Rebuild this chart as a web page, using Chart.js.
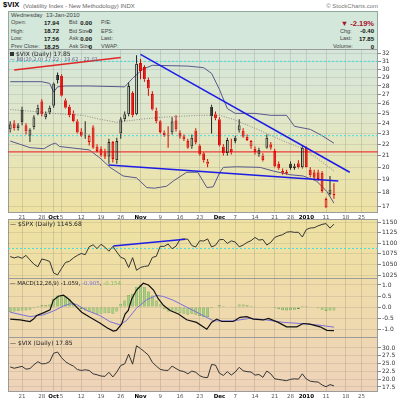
<!DOCTYPE html>
<html>
<head>
<meta charset="utf-8">
<title>$VIX daily</title>
<script src="https://cdn.jsdelivr.net/npm/chart.js@4.4.1/dist/chart.umd.min.js"></script>
<style>
  body { margin: 0; width: 400px; height: 400px; background: #fff; position: relative; overflow: hidden;
         font-family: "DejaVu Sans", Verdana, sans-serif; }
  .t { position: absolute; white-space: nowrap; line-height: 1; font-size: 5.5px; color: #444;
       font-family: "Liberation Sans", Arial, sans-serif; }
  .v { position: absolute; white-space: nowrap; line-height: 1; font-size: 6px; font-weight: bold; color: #111;
       font-family: "Liberation Sans", Arial, sans-serif; }
  .lg { font-family: "DejaVu Sans", Verdana, sans-serif; }
  .box { position: absolute; left: 8px; width: 370px; box-sizing: border-box; border: 1px solid #9b9b9b; }
  canvas { position: absolute; left: 0; }
</style>
</head>
<body>

<!-- header -->
<div class="t" style="left:3px;top:1px;font-size:7.5px;font-weight:bold;color:#000">$VIX</div>
<div class="t" style="left:23px;top:2.5px;font-size:6px;color:#666">(Volatility Index - New Methodology) INDX</div>
<div class="t" style="right:22px;top:2.5px;font-size:6px;color:#777">© StockCharts.com</div>

<div class="box" style="top:11px;height:39px;background:#d3e7da;border-color:#92aa9c"></div>
<div class="t" style="left:11px;top:12px;font-size:6px">Wednesday&nbsp; 13-Jan-2010</div>

<div class="t" style="left:11px;top:20.2px">Open:</div>
<div class="v" style="right:341px;top:20px">17.94</div>
<div class="t" style="left:69px;top:20.2px">Bid:</div>
<div class="v" style="right:308px;top:20px">0.00</div>
<div class="t" style="left:101px;top:20.2px">P/E:</div>

<div class="t" style="left:11px;top:28.5px">High:</div>
<div class="v" style="right:341px;top:28.3px">18.72</div>
<div class="t" style="left:69px;top:28.5px">Bid Size:</div>
<div class="v" style="right:308px;top:28.3px">0</div>
<div class="t" style="left:101px;top:28.5px">EPS:</div>

<div class="t" style="left:11px;top:36.2px">Low:</div>
<div class="v" style="right:341px;top:36px">17.56</div>
<div class="t" style="left:69px;top:36.2px">Ask:</div>
<div class="v" style="right:308px;top:36px">0.00</div>
<div class="t" style="left:101px;top:36.2px">Last:</div>

<div class="t" style="left:11px;top:43.9px">Prev Close:</div>
<div class="v" style="right:341px;top:43.7px">18.25</div>
<div class="t" style="left:69px;top:43.9px">Ask Size:</div>
<div class="v" style="right:308px;top:43.7px">0</div>
<div class="t" style="left:101px;top:43.9px">VWAP:</div>

<div class="v" style="right:26px;top:19.5px;font-size:7.5px;color:#a8102c">▼ -2.19%</div>
<div class="t" style="left:340px;top:28.5px">Chg:</div>
<div class="v" style="right:26px;top:28.3px">-0.40</div>
<div class="t" style="left:340px;top:36.2px">Last:</div>
<div class="v" style="right:26px;top:36px">17.85</div>
<div class="t" style="left:333px;top:43.9px">Volume:</div>
<div class="v" style="right:26px;top:43.7px">0</div>

<!-- panel backgrounds -->
<div class="box" style="top:49px;height:164px;background:linear-gradient(#d5e6da 0%,#dfe7cb 40%,#e9e4b2 75%,#eee1a3 100%)"></div>
<div class="box" style="top:219px;height:60px;background:linear-gradient(#eee1a1,#efdea6)"></div>
<div class="box" style="top:278px;height:60px;background:linear-gradient(#efdca9,#efd8b0)"></div>
<div class="box" style="top:337px;height:55px;background:linear-gradient(#efd7b2,#efd3b9)"></div>

<canvas id="mainChart" width="400" height="178" style="top:44px"></canvas>
<canvas id="spxChart" width="400" height="70" style="top:214px"></canvas>
<canvas id="macdChart" width="400" height="70" style="top:273px"></canvas>
<canvas id="vixChart" width="400" height="68" style="top:332px"></canvas>

<!-- panel legends -->
<div class="t lg" style="left:10px;top:50.5px;font-size:6px;color:#222"><span style="display:inline-block;width:4px;height:4px;background:#333;margin-right:2px"></span>$VIX (Daily) 17.85</div>
<div class="t lg" style="left:10px;top:57px;font-size:5px;color:#6a6a92">— BB(20,2.0) 17.22 - 19.62 - 22.02</div>
<div class="t lg" style="left:10px;top:221px;font-size:6px;color:#222">— $SPX (Daily) 1145.68</div>
<div class="t lg" style="left:10px;top:280.5px;font-size:5.5px;color:#222">— MACD(12,26,9) -1.059, <span style="color:#7b70d8">-0.905</span>, <span style="color:#7fbf5f">-0.154</span></div>
<div class="t lg" style="left:10px;top:339.5px;font-size:6px;color:#222">— $VIX (Daily) 17.85</div>

<script>
// trading days 16-Sep-2009 .. 13-Jan-2010, index 0..82
const tickIdx = [3, 8, 11, 13, 18, 23, 28, 33, 38, 43, 48, 53, 57, 62, 67, 71, 75, 80, 85, 89];
const tickLbl = ['21', '28', 'Oct', '5', '12', '19', '26', 'Nov', '9', '16', '23', 'Dec', '7', '14', '21', '28', '2010', '11', '18', '25'];
const monthIdx = [11, 33, 53, 75];

const vixOpen = [23.4, 24.0, 23.5, 25.4, 23.8, 22.8, 23.6, 24.9, 26.3, 24.6,
  25.1, 25.8, 29.3, 29.2, 26.4, 25.7, 25.0, 24.2, 23.2, 22.9,
  22.2, 23.6, 21.8, 21.6, 21.3, 20.9, 22.2, 20.6, 23.0, 24.4,
  24.9, 27.2, 24.9, 30.8, 30.3, 28.7, 27.1, 25.3, 24.2, 23.1,
  22.9, 23.1, 24.3, 23.1, 22.75, 22.3, 21.8, 23.3, 21.9, 21.2,
  20.3, 25.7, 24.9, 24.4, 21.8, 21.2, 21.6, 22.6, 23.3, 23.3,
  22.7, 21.8, 21.6, 21.1, 21.0, 21.7, 22.0, 21.4, 20.3, 19.55,
  19.65, 20.3, 19.95, 20.35, 20.0, 21.7, 19.8, 19.6, 19.6, 19.55,
  16.95, 17.9, 17.94];
const vixHigh = [24.2, 24.3, 24.0, 25.7, 24.0, 23.5, 24.8, 25.9, 26.5, 25.2,
  25.8, 28.4, 29.6, 29.4, 26.6, 25.9, 25.3, 24.4, 23.5, 24.2,
  22.9, 23.8, 22.0, 21.8, 21.6, 22.5, 22.3, 22.6, 24.6, 25.2,
  28.4, 27.4, 31.8, 31.3, 30.5, 29.0, 27.4, 25.6, 24.3, 23.3,
  23.7, 24.6, 24.8, 23.3, 22.9, 22.5, 22.9, 23.5, 22.0, 21.3,
  20.7, 25.9, 25.2, 24.6, 22.0, 22.6, 22.5, 22.8, 24.4, 23.5,
  22.9, 22.4, 21.8, 21.7, 21.2, 22.9, 22.2, 21.6, 20.5, 19.9,
  19.8, 20.5, 20.3, 20.6, 21.9, 21.8, 20.0, 19.8, 19.8, 19.7,
  17.65, 19.3, 18.72];
const vixLow = [23.1, 23.3, 23.3, 23.8, 22.9, 22.2, 23.4, 24.8, 24.7, 24.4,
  24.9, 25.6, 28.3, 26.8, 25.5, 24.6, 24.1, 23.0, 22.7, 22.5,
  21.9, 21.6, 21.3, 20.9, 20.7, 20.3, 20.4, 20.3, 22.5, 24.2,
  24.7, 24.6, 24.8, 28.8, 28.5, 26.9, 25.3, 24.0, 23.0, 22.7,
  21.7, 22.9, 23.2, 22.5, 22.3, 21.6, 21.6, 22.0, 21.0, 20.4,
  20.0, 23.0, 24.3, 21.8, 21.0, 21.0, 21.1, 22.1, 23.1, 22.6,
  22.3, 21.6, 21.1, 20.9, 20.5, 21.6, 21.5, 20.0, 19.8, 19.4,
  19.4, 19.8, 19.8, 19.9, 19.9, 20.0, 19.2, 19.0, 18.9, 18.0,
  16.9, 17.8, 17.56];
const vixClose = [23.9, 23.5, 23.8, 24.1, 23.2, 23.4, 24.6, 25.6, 24.9, 25.0,
  25.6, 28.3, 28.7, 26.9, 25.6, 24.8, 24.2, 23.1, 22.8, 23.0,
  22.8, 21.7, 21.4, 21.0, 20.9, 22.2, 20.7, 22.3, 24.4, 24.9,
  28.0, 24.8, 30.7, 29.8, 28.8, 27.7, 25.4, 24.2, 23.15, 22.85,
  22.8, 24.2, 23.4, 22.7, 22.45, 21.7, 22.6, 22.2, 21.1, 20.6,
  20.5, 24.7, 24.5, 21.9, 21.2, 22.4, 21.3, 22.3, 23.8, 22.7,
  22.4, 22.3, 21.3, 21.5, 20.6, 22.6, 21.7, 20.1, 19.9, 19.7,
  19.5, 19.95, 20.1, 20.0, 21.7, 20.04, 19.35, 19.16, 19.06, 18.13,
  17.55, 18.25, 17.85];

// Bollinger bands as [day index, value] vertices
const bbUpper = [[0, 28.5], [8, 28.5], [10, 28.3], [11, 27.3], [12, 27.9], [14, 28.0], [20, 28.0], [29, 27.9],
  [31, 28.9], [33.5, 30.0], [36, 30.5], [45, 30.4], [49, 30.2], [51, 29.5], [53, 27.6], [55, 25.5], [57, 25.0],
  [62, 25.0], [66, 24.8], [70, 24.8], [72, 23.7], [76, 23.4], [79, 22.8], [82, 22.1]];
const bbMiddle = [[0, 25.4], [6, 25.2], [11, 25.0], [18.5, 24.8], [22.7, 24.4], [27, 24.1], [33, 24.4], [38, 24.6],
  [48, 24.8], [53, 24.8], [56.5, 24.4], [63.3, 23.3], [69.2, 22.3], [74.2, 21.6], [77.6, 20.8], [82, 19.7]];
const bbLower = [[0, 22.3], [2.5, 22.0], [5, 21.7], [8.5, 21.6], [10.5, 22.0], [11.5, 22.1], [12.5, 21.8], [20, 21.5],
  [22.7, 20.8], [25.3, 20.0], [28.6, 19.3], [32, 19.15], [34.6, 18.4], [36.5, 18.35], [39.6, 18.5], [41.3, 18.9],
  [44.7, 19.6], [47.5, 19.6], [49.8, 18.4], [51.4, 18.45], [53.1, 19.6], [54, 20.0], [57.4, 20.05], [63.3, 20.0],
  [66.6, 19.7], [70.9, 19.4], [74.2, 19.3], [77.6, 18.9], [80.2, 18.1], [82, 17.25]];

// hand-drawn annotation lines
const trendRed = [[1, 29.9], [28, 31.5]];
const trendBlueDown = [[33, 31.9], [86, 19.6]];
const trendBlueLow = [[24.9, 20.2], [83.1, 18.9]];
const vixRedLevel = 21.33;
const vixCyanLevels = [31.0, 22.8];
const spxTrend = [[26.1, 1093.8], [44.3, 1109.7]];
const spxCyanLevel = 1088;

const spxClose = [1068.76, 1065.49, 1068.30, 1064.66, 1071.66, 1060.87, 1050.78, 1044.38, 1062.98, 1060.61,
  1057.08, 1029.85, 1025.21, 1040.46, 1054.72, 1057.58, 1065.48, 1071.49, 1076.19, 1073.19,
  1092.02, 1096.56, 1087.68, 1097.91, 1091.06, 1081.40, 1092.91, 1079.60, 1066.95, 1063.41,
  1042.63, 1066.11, 1036.19, 1042.88, 1045.41, 1046.50, 1066.63, 1069.30, 1093.08, 1093.01,
  1098.51, 1087.24, 1093.48, 1109.30, 1110.32, 1109.80, 1094.90, 1091.38, 1106.24, 1105.65,
  1110.63, 1091.49, 1095.63, 1108.86, 1109.24, 1099.92, 1105.98, 1103.25, 1091.94, 1095.95,
  1102.35, 1106.41, 1114.11, 1107.93, 1109.18, 1096.08, 1102.47, 1114.05, 1118.02, 1120.59,
  1126.48, 1127.78, 1126.20, 1126.42, 1115.10, 1132.99, 1136.52, 1137.14, 1141.69, 1144.98,
  1146.98, 1136.22, 1145.68];

const macdLine = [[0, -0.54], [2.5, -0.58], [5, -0.65], [5.9, -0.54], [6.7, -0.38], [8.4, -0.26], [10.1, -0.12],
  [10.9, 0.31], [12.2, 0.49], [13.5, 0.54], [14.7, 0.38], [16.4, 0.08], [18.1, -0.23], [20.2, -0.46], [22.7, -0.72],
  [24.4, -0.92], [26.1, -1.08], [26.9, -1.05], [28.2, -0.77], [29.1, -0.31], [29.9, -0.15], [30.8, 0.38], [32, 0.77],
  [33.7, 1.08], [35, 1.0], [36.3, 0.77], [37.5, 0.38], [38.8, 0.08], [40.5, -0.15], [42.6, -0.31], [44.7, -0.57],
  [47.2, -0.69], [49.8, -1.0], [51, -0.69], [52.3, -0.54], [53.6, -0.65], [56.5, -0.65], [58.2, -0.46], [59.9, -0.43],
  [61.6, -0.54], [64.1, -0.58], [65.4, -0.51], [67.9, -0.69], [70, -0.89], [72.6, -0.89], [74.2, -0.74], [75.9, -0.77],
  [78.5, -0.89], [80.2, -1.05], [82, -1.059]];
const macdSignal = [[0, -0.23], [5, -0.43], [8.4, -0.35], [10.9, -0.18], [13.5, 0.05], [15.1, 0.15], [16.8, 0.12],
  [19.4, -0.15], [22.7, -0.38], [25.3, -0.66], [27.8, -0.8], [29.5, -0.6], [32, -0.05], [34.6, 0.34], [37.1, 0.53],
  [38.8, 0.48], [41.3, 0.31], [44.7, 0.0], [48.1, -0.31], [51.5, -0.62], [56.5, -0.62], [60.7, -0.51], [64.9, -0.58],
  [69.2, -0.69], [73.4, -0.74], [77.6, -0.8], [82, -0.905]];
const macdHist = [-0.22, -0.2, -0.18, -0.15, -0.15, -0.12, -0.05, 0.05, 0.08, 0.1,
  0.12, 0.38, 0.52, 0.55, 0.48, 0.35, 0.2, 0.05, -0.08, -0.15,
  -0.2, -0.28, -0.3, -0.3, -0.28, -0.27, -0.3, -0.2, 0.15, 0.3,
  0.55, 0.6, 0.92, 1.0, 0.92, 0.7, 0.52, 0.3, 0.12, -0.1,
  -0.2, -0.15, -0.2, -0.25, -0.3, -0.35, -0.3, -0.35, -0.4, -0.45,
  -0.45, -0.05, 0.03, 0.08, 0.05, 0.03, 0.02, 0.04, 0.12, 0.12,
  0.1, 0.06, 0.02, 0.03, -0.02, 0.04, 0.03, -0.05, -0.1, -0.14,
  -0.15, -0.13, -0.12, -0.08, 0.06, 0.05, 0.02, -0.02, -0.05, -0.12,
  -0.17, -0.15, -0.154];

const vixTicks = [17, 18, 19, 20, 21, 22, 23, 24, 25, 26, 27, 28, 29, 30, 31, 32];
const spxTicks = [1025, 1050, 1075, 1100, 1125, 1150];
const macdTicks = [-1, -0.5, 0, 0.5, 1];
const vixLineTicks = [17.5, 20, 22.5, 25, 27.5, 30];

Chart.defaults.font.family = '"DejaVu Sans", Verdana, sans-serif';
Chart.defaults.color = '#333';

const X_MIN = -0.56, X_MAX = 93.16;
const xy = arr => arr.map(([x, y]) => ({ x, y }));
const span = v => [{ x: X_MIN, y: v }, { x: X_MAX, y: v }];
const series = arr => arr.map((y, x) => ({ x, y }));
const isMonth = c => !!(c && c.tick && monthIdx.includes(c.tick.value));

function xAxis(showLabels, height) {
  return {
    type: 'linear', min: X_MIN, max: X_MAX, offset: false,
    afterBuildTicks: s => { s.ticks = tickIdx.map(v => ({ value: v })); },
    afterFit: s => { s.height = height; },
    grid: { color: 'rgba(100,100,100,0.2)', drawTicks: false, offset: false },
    border: { display: false },
    ticks: {
      display: showLabels, autoSkip: false, maxRotation: 0, padding: 2,
      callback: v => tickLbl[tickIdx.indexOf(v)],
      color: c => isMonth(c) ? '#000' : '#555',
      font: c => ({ size: 5.5, weight: isMonth(c) ? 'bold' : 'normal' })
    }
  };
}

function yAxis(type, min, max, values, fmt) {
  return {
    type, min, max, position: 'right',
    afterBuildTicks: s => { s.ticks = values.map(v => ({ value: v })); },
    afterFit: s => { s.width = 22; },
    grid: { color: 'rgba(100,100,100,0.15)', tickLength: 3, tickColor: '#888' },
    border: { display: false },
    ticks: { autoSkip: false, padding: 1, color: '#333', font: { size: 6 }, callback: fmt }
  };
}

function baseOptions(padTop, padBottom, x, y) {
  return {
    responsive: false, animation: false, events: [],
    layout: { padding: { left: 8, right: 0, top: padTop, bottom: padBottom } },
    plugins: { legend: { display: false }, tooltip: { enabled: false } },
    scales: { x, y }
  };
}

function line(data, color, width, order, dash) {
  return { type: 'line', data, borderColor: color, borderWidth: width, borderDash: dash || [],
           pointRadius: 0, fill: false, order };
}

// ── main candlestick panel ─────────────────────────
const candleColor = vixClose.map((c, i) => (i > 0 && c < vixClose[i - 1]) ? '#dd0000' : '#222');
const bodyFill = vixClose.map((c, i) => c < vixOpen[i] ? candleColor[i] : 'rgba(0,0,0,0)');

new Chart(document.getElementById('mainChart'), {
  type: 'bar',
  data: {
    datasets: [
      line(xy(bbUpper), '#58588c', 1, 6),
      line(xy(bbLower), '#58588c', 1, 6),
      line(xy(bbMiddle), '#8a8a8a', 1, 6, [1, 1.5]),
      line(span(vixCyanLevels[0]), '#3fdede', 1, 5, [2, 2]),
      line(span(vixCyanLevels[1]), '#3fdede', 1, 5, [2, 2]),
      line(span(vixRedLevel), '#e83c3c', 1.2, 5),
      {
        type: 'bar', grouped: false, maxBarThickness: 1, order: 3, borderWidth: 0,
        data: vixClose.map((c, i) => ({ x: i, y: [Math.max(vixOpen[i], c), vixHigh[i]] })),
        backgroundColor: candleColor
      },
      {
        type: 'bar', grouped: false, maxBarThickness: 1, order: 3, borderWidth: 0,
        data: vixClose.map((c, i) => ({ x: i, y: [vixLow[i], Math.min(vixOpen[i], c)] })),
        backgroundColor: candleColor
      },
      {
        type: 'bar', grouped: false, maxBarThickness: 3, order: 2, borderWidth: 1,
        borderSkipped: false, minBarLength: 1,
        data: vixClose.map((c, i) => ({ x: i, y: [vixOpen[i], c] })),
        backgroundColor: bodyFill, borderColor: candleColor
      },
      line(xy(trendRed), '#e02828', 1.5, 0),
      line(xy(trendBlueDown), '#1c1ce6', 1.5, 0),
      line(xy(trendBlueLow), '#1c1ce6', 1.5, 0)
    ]
  },
  options: baseOptions(6, 0, xAxis(true, 10),
    yAxis('logarithmic', 16.63, 32.49, vixTicks, v => String(v)))
});

// ── S&P 500 panel ─────────────────────────
new Chart(document.getElementById('spxChart'), {
  type: 'line',
  data: {
    datasets: [
      line(span(spxCyanLevel), '#3fdede', 1, 3, [2, 2]),
      line(series(spxClose), '#333', 1, 2),
      line(xy(spxTrend), '#1c1ce6', 1.5, 0)
    ]
  },
  options: baseOptions(6, 6, xAxis(false, 0),
    yAxis('linear', 1017.9, 1155.5, spxTicks, v => String(v)))
});

// ── MACD panel ─────────────────────────
new Chart(document.getElementById('macdChart'), {
  type: 'bar',
  data: {
    datasets: [
      {
        type: 'bar', grouped: false, maxBarThickness: 3.5, order: 3,
        data: series(macdHist),
        backgroundColor: '#a2d083', borderColor: '#5a9842', borderWidth: 0.6, borderSkipped: false
      },
      line(xy(macdSignal), '#7b70d8', 1, 2),
      line(xy(macdLine), '#111', 1.2, 1)
    ]
  },
  options: baseOptions(6, 6, xAxis(false, 0),
    yAxis('linear', -1.35, 1.27, macdTicks, v => v.toFixed(1)))
});

// ── VIX close line panel ─────────────────────────
new Chart(document.getElementById('vixChart'), {
  type: 'line',
  data: { datasets: [line(series(vixClose), '#333', 1, 1)] },
  options: baseOptions(6, 0, xAxis(true, 9),
    yAxis('linear', 16.2, 33.2, vixLineTicks, v => v.toFixed(1)))
});
</script>
</body>
</html>
